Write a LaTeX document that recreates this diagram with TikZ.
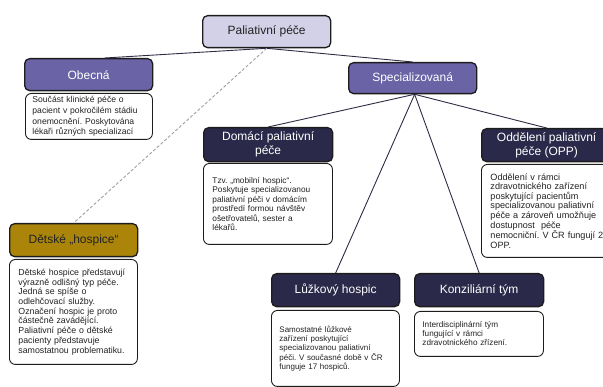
\documentclass[tikz,border=0pt]{standalone}
\usepackage{fontspec}
\setmainfont{Liberation Sans}
\usetikzlibrary{calc}
\definecolor{lav}{HTML}{D3D1E7}
\definecolor{midp}{HTML}{6A63A6}
\definecolor{navy}{HTML}{2B2949}
\definecolor{gold}{HTML}{AA850A}
\definecolor{edge}{HTML}{1C1C1C}
\definecolor{linec}{HTML}{2E2C44}
\definecolor{dtext}{HTML}{222222}
\frenchspacing
\begin{document}
\begin{tikzpicture}[x=1pt,y=-1pt,
  hdr/.style={draw=edge, line width=1.3pt, rounded corners=5pt, anchor=north west,
    inner sep=0pt, align=center, font=\fontsize{12}{14.3}\selectfont, text=white},
  desc/.style={draw=edge, line width=0.9pt, rounded corners=6pt, anchor=north west,
    inner ysep=0pt, align=left, text=dtext, fill=white},
  conn/.style={draw=linec, line width=0.9pt},
  dconn/.style={draw=gray!75, line width=0.9pt, dash pattern=on 3pt off 2pt},
]
\useasboundingbox (0,0) rectangle (603,387);

% header boxes
\node[hdr, fill=lav, text=dtext, minimum width=128pt, minimum height=32pt] (pal) at (202,15) {Paliativní péče};
\node[hdr, fill=midp, minimum width=128pt, minimum height=32pt] (obec) at (24,58) {Obecná};
\node[hdr, fill=midp, minimum width=128pt, minimum height=31pt] (spec) at (348,62) {Specializovaná};
\node[hdr, fill=navy, minimum width=129pt, minimum height=34pt] (dom) at (203,127) {Domácí paliativní\\péče};
\node[hdr, fill=navy, minimum width=130pt, minimum height=33pt] (opp) at (481,128) {Oddělení paliativní\\péče (OPP)};
\node[hdr, fill=gold, text=dtext, minimum width=128pt, minimum height=33pt] (det) at (9,223) {Dětské „hospice“};
\node[hdr, fill=navy, minimum width=128pt, minimum height=33pt] (luz) at (271,273) {Lůžkový hospic};
\node[hdr, fill=navy, minimum width=129pt, minimum height=33pt] (kon) at (414,273) {Konziliární tým};

% description boxes
\node[desc, inner xsep=7pt, text width=113pt, minimum height=46pt,
  font=\fontsize{8.6}{10.7}\selectfont] (obecd) at (25,93)
  {Součást klinické péče o\\pacient v pokročilém stádiu\\onemocnění. Poskytována\\lékaři různých specializací};
\node[desc, inner xsep=9pt, text width=111pt, minimum height=81pt,
  font=\fontsize{8.3}{9.5}\selectfont] (domd) at (203,163)
  {Tzv. „mobilní hospic“.\\Poskytuje specializovanou\\paliativní péči v domácím\\prostředí formou návštěv\\ošetřovatelů, sester a\\lékařů.};
\node[desc, inner xsep=9pt, text width=116pt, minimum height=93pt,
  font=\fontsize{9.1}{9.6}\selectfont] (oppd) at (481,164)
  {Oddělení v rámci\\zdravotnického zařízení\\poskytující pacientům\\specializovanou paliativní\\péče a zároveň umožňuje\\dostupnost\ \ péče\\nemocniční. V ČR fungují 2\\OPP.};
\node[desc, inner xsep=9pt, text width=110pt, minimum height=105pt,
  font=\fontsize{8.8}{9.7}\selectfont] (detd) at (9,259)
  {Dětské hospice představují\\výrazně odlišný typ péče.\\Jedná se spíše o\\odlehčovací služby.\\Označení hospic je proto\\částečně zavádějící.\\Paliativní péče o dětské\\pacienty představuje\\samostatnou problematiku.};
\node[desc, inner xsep=8pt, text width=112pt, minimum height=76pt,
  font=\fontsize{8}{9.4}\selectfont] (luzd) at (271,310)
  {Samostatné lůžkové\\zařízení poskytující\\specializovanou paliativní\\péči. V současné době v ČR\\funguje 17 hospiců.};
\node[desc, inner xsep=8pt, text width=113pt, minimum height=45pt,
  font=\fontsize{8.2}{9}\selectfont] (kond) at (414,311)
  {Interdisciplinární tým\\fungující v rámci\\zdravotnického zřízení.};

% connectors
\draw[conn] (pal.south) -- ([xshift=16pt]obec.north);
\draw[conn] (pal.south) -- (spec.north);
\draw[dconn] (pal.south) -- (det.north);
\draw[conn] ([xshift=2pt]spec.south) -- (dom.north);
\draw[conn] ([xshift=2pt]spec.south) -- (opp.north);
\draw[conn] ([xshift=2pt]spec.south) -- (luz.north);
\draw[conn] ([xshift=2pt]spec.south) -- (kon.north);
\end{tikzpicture}
\end{document}
